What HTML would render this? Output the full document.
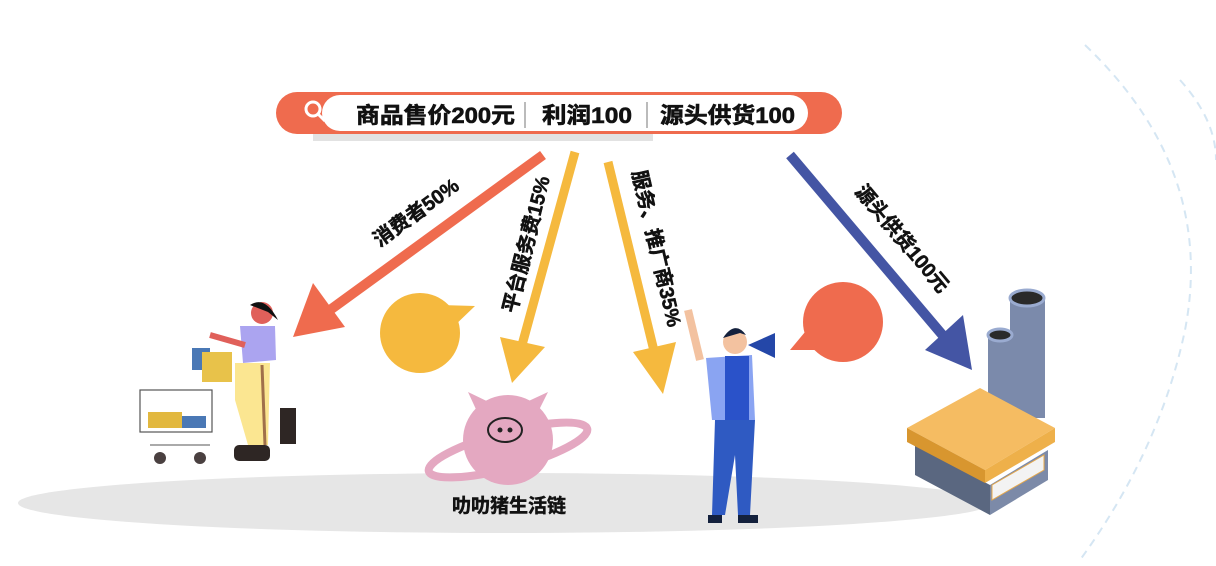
<!DOCTYPE html>
<html><head><meta charset="utf-8"><style>
html,body{margin:0;padding:0;background:#fff;width:1216px;height:566px;overflow:hidden}
svg text{font-family:"Liberation Sans","Noto Sans CJK SC",sans-serif;font-weight:bold}
</style></head><body>
<svg width="1216" height="566" viewBox="0 0 1216 566" xmlns="http://www.w3.org/2000/svg">
<!-- dashed arcs -->
<path d="M1085 45 Q1216 170 1185 330 Q1160 450 1080 560" fill="none" stroke="#d5e6f3" stroke-width="2" stroke-dasharray="8 6"/>
<path d="M1180 80 Q1216 120 1216 160" fill="none" stroke="#d5e6f3" stroke-width="2" stroke-dasharray="8 6"/>
<!-- ground -->
<ellipse cx="505" cy="503" rx="487" ry="30" fill="#e6e6e6"/>
<!-- search bar -->
<rect x="313" y="125" width="340" height="16" fill="#e2e2e2"/>
<rect x="276" y="92" width="566" height="42" rx="21" fill="#ef6b4e"/>
<rect x="322" y="95" width="486" height="36" rx="18" fill="#fff"/>
<circle cx="313" cy="109" r="7" fill="none" stroke="#fff" stroke-width="3"/>
<line x1="318" y1="114" x2="325" y2="121" stroke="#fff" stroke-width="3"/>
<text x="356" y="123" font-size="22" fill="#111" textLength="159" lengthAdjust="spacingAndGlyphs" stroke="#111" stroke-width="0.6">商品售价200元</text>
<line x1="525" y1="102" x2="525" y2="128" stroke="#bbb" stroke-width="2"/>
<text x="542" y="123" font-size="22" fill="#111" textLength="90" lengthAdjust="spacingAndGlyphs" stroke="#111" stroke-width="0.6">利润100</text>
<line x1="647" y1="102" x2="647" y2="128" stroke="#bbb" stroke-width="2"/>
<text x="660" y="123" font-size="22" fill="#111" textLength="135" lengthAdjust="spacingAndGlyphs" stroke="#111" stroke-width="0.6">源头供货100</text>
<!-- arrows -->
<line x1="543" y1="155" x2="330" y2="310" stroke="#ef6b4e" stroke-width="10"/>
<polygon points="293,337 313,283 345,327" fill="#ef6b4e"/>
<line x1="575" y1="152" x2="522" y2="345" stroke="#f5b93e" stroke-width="9"/>
<polygon points="512,383 500,337 545,347" fill="#f5b93e"/>
<line x1="608" y1="162" x2="655" y2="355" stroke="#f5b93e" stroke-width="9"/>
<polygon points="663,394 633,352 676,342" fill="#f5b93e"/>
<line x1="790" y1="155" x2="945" y2="338" stroke="#4455a4" stroke-width="10"/>
<polygon points="972,370 925,350 963,315" fill="#4455a4"/>
<!-- labels -->
<text transform="translate(420,218) rotate(-36)" text-anchor="middle" font-size="20" fill="#111" stroke="#111" stroke-width="0.5">消费者50%</text>
<text transform="translate(533,246) rotate(-76)" text-anchor="middle" font-size="20" fill="#111" stroke="#111" stroke-width="0.5">平台服务费15%</text>
<text transform="translate(650,250) rotate(77)" text-anchor="middle" font-size="20" fill="#111" stroke="#111" stroke-width="0.5">服务、推广商35%</text>
<text transform="translate(897,243) rotate(50)" text-anchor="middle" font-size="20" fill="#111" stroke="#111" stroke-width="0.5">源头供货100元</text>
<!-- bubbles -->
<circle cx="420" cy="333" r="40" fill="#f5b93e"/>
<polygon points="440,305 475,306 450,330" fill="#f5b93e"/>
<circle cx="843" cy="322" r="40" fill="#ef6b4e"/>
<polygon points="815,320 790,350 830,350" fill="#ef6b4e"/>
<!-- pig planet -->
<g fill="#e4a8c1">
<polygon points="468,392 480,418 495,405"/><polygon points="548,392 535,418 520,405"/>
<circle cx="508" cy="440" r="45"/>
<ellipse cx="508" cy="450" rx="82" ry="18" fill="none" stroke="#e4a8c1" stroke-width="8" transform="rotate(-15 508 450)"/>
</g>
<ellipse cx="505" cy="430" rx="17" ry="12" fill="none" stroke="#222" stroke-width="2"/>
<circle cx="500" cy="430" r="2.5" fill="#222"/><circle cx="510" cy="430" r="2.5" fill="#222"/>
<text x="509" y="512" text-anchor="middle" font-size="19" fill="#111" stroke="#111" stroke-width="0.5">叻叻猪生活链</text>
<!-- shopper -->
<g>
<rect x="140" y="390" width="72" height="42" fill="none" stroke="#555" stroke-width="1.2"/>
<rect x="148" y="412" width="34" height="16" fill="#e2b83f"/><rect x="182" y="416" width="24" height="12" fill="#4a78b5"/>
<line x1="150" y1="445" x2="210" y2="445" stroke="#555"/>
<circle cx="160" cy="458" r="6" fill="#4a4040"/><circle cx="200" cy="458" r="6" fill="#4a4040"/>
<rect x="192" y="348" width="18" height="22" fill="#4a78b5"/><rect x="202" y="352" width="30" height="30" fill="#e8c24a"/>
<path d="M235 363 L270 363 L268 445 L248 445 L235 400Z" fill="#fbe691"/>
<line x1="262" y1="365" x2="265" y2="445" stroke="#a0704a" stroke-width="3"/>
<path d="M240 326 L275 326 L276 360 L243 363Z" fill="#aba4f0"/>
<circle cx="262" cy="313" r="11" fill="#e0605a"/><path d="M250 305 Q265 295 278 320 L268 312Z" fill="#111"/>
<rect x="280" y="408" width="16" height="36" fill="#2e2624"/><rect x="234" y="445" width="36" height="16" rx="5" fill="#2e2624"/>
<path d="M210 335 L245 345" stroke="#e0605a" stroke-width="6"/>
</g>
<!-- man -->
<g>
<path d="M688 310 L700 360" stroke="#f3c2a0" stroke-width="8"/>
<path d="M706 358 L752 355 L755 420 L712 420Z" fill="#8aa4f2"/><rect x="725" y="356" width="24" height="64" fill="#2a52c9"/>
<path d="M715 420 L755 420 L750 515 L738 515 L735 455 L725 515 L712 515Z" fill="#2f5ac2"/>
<circle cx="735" cy="342" r="12" fill="#f3c2a0"/><path d="M723 338 Q735 320 746 335 L740 333Z" fill="#14213d"/>
<polygon points="748,345 775,333 775,358" fill="#2447a8"/>
<rect x="708" y="515" width="14" height="8" fill="#14213d"/><rect x="738" y="515" width="20" height="8" fill="#14213d"/>
</g>
<!-- factory -->
<g>
<rect x="1010" y="298" width="35" height="120" fill="#7b8aab"/><ellipse cx="1027" cy="298" rx="17" ry="8" fill="#2a2a2a" stroke="#9aabd0" stroke-width="3"/>
<rect x="988" y="335" width="25" height="80" fill="#7b8aab"/><ellipse cx="1000" cy="335" rx="12" ry="6" fill="#2a2a2a" stroke="#9aabd0" stroke-width="3"/>
<polygon points="915,445 990,485 990,515 915,475" fill="#5a6780"/>
<polygon points="990,485 1048,450 1048,480 990,515" fill="#7c8aa8"/>
<polygon points="992,485 1044,455 1044,470 992,500" fill="#f3f3f3" stroke="#e8a94a"/>
<polygon points="907,428 980,388 1055,428 985,470" fill="#f5bc62"/>
<polygon points="907,428 985,470 985,483 907,442" fill="#d8962f"/>
<polygon points="985,470 1055,428 1055,442 985,483" fill="#eeb04a"/>
</g>
</svg>
</body></html>
